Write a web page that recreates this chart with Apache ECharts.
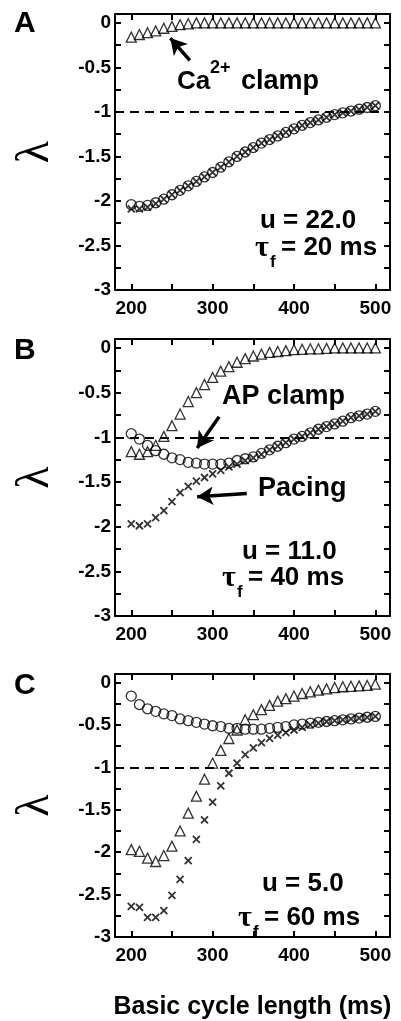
<!DOCTYPE html>
<html><head><meta charset="utf-8">
<script src="https://cdn.jsdelivr.net/npm/echarts@6/dist/echarts.min.js"></script>
<style>html,body{margin:0;padding:0;background:#fff}#c{width:401px;height:1021px}</style>
</head><body><div id="c"></div>
<script>
const bcl = [200,210,220,230,240,250,260,270,280,290,300,310,320,330,340,350,360,370,380,390,400,410,420,430,440,450,460,470,480,490,500];
const xLabels = [200,300,400,500];
const xTicks = [200,250,300,350,400,450,500];
const yLabels = [0,-0.5,-1,-1.5,-2,-2.5,-3];
const yTicks = [0,-0.25,-0.5,-0.75,-1,-1.25,-1.5,-1.75,-2,-2.25,-2.5,-2.75,-3];

// Panel A (u = 22.0, tau_f = 20 ms)
const A_ca = [-0.16,-0.13,-0.11,-0.09,-0.06,-0.04,-0.02,-0.01,0,0,0,0,0,0,0,0,0,0,0,0,0,0,0,0,0,0,0,0,0,0,0];
const A_ap = [-2.04,-2.06,-2.05,-2.02,-1.98,-1.93,-1.88,-1.83,-1.78,-1.73,-1.68,-1.62,-1.56,-1.50,-1.45,-1.40,-1.35,-1.31,-1.27,-1.23,-1.19,-1.15,-1.12,-1.09,-1.06,-1.03,-1.01,-0.99,-0.97,-0.95,-0.93];
const A_pace = [-2.09,-2.09,-2.07,-2.03,-1.98,-1.93,-1.88,-1.83,-1.78,-1.73,-1.68,-1.62,-1.56,-1.50,-1.45,-1.40,-1.35,-1.31,-1.27,-1.23,-1.19,-1.15,-1.12,-1.09,-1.06,-1.03,-1.01,-0.99,-0.97,-0.95,-0.93];
// Panel B (u = 11.0, tau_f = 40 ms)
const B_ca = [-1.16,-1.19,-1.16,-1.09,-0.99,-0.87,-0.74,-0.60,-0.50,-0.41,-0.33,-0.26,-0.21,-0.16,-0.12,-0.09,-0.07,-0.05,-0.04,-0.03,-0.02,-0.015,-0.01,-0.01,-0.005,0,0,0,0,0,0];
const B_ap = [-0.96,-1.02,-1.09,-1.15,-1.19,-1.23,-1.25,-1.28,-1.29,-1.30,-1.30,-1.30,-1.29,-1.26,-1.24,-1.22,-1.18,-1.14,-1.10,-1.06,-1.02,-0.99,-0.95,-0.91,-0.88,-0.85,-0.82,-0.78,-0.76,-0.74,-0.71];
const B_pace = [-1.97,-1.99,-1.97,-1.90,-1.82,-1.72,-1.62,-1.55,-1.49,-1.45,-1.41,-1.37,-1.33,-1.30,-1.26,-1.23,-1.19,-1.14,-1.10,-1.06,-1.02,-0.99,-0.95,-0.91,-0.88,-0.85,-0.82,-0.78,-0.76,-0.74,-0.71];
// Panel C (u = 5.0, tau_f = 60 ms)
const C_ca = [-1.97,-1.99,-2.07,-2.11,-2.04,-1.93,-1.75,-1.54,-1.34,-1.14,-0.95,-0.80,-0.66,-0.56,-0.44,-0.38,-0.32,-0.27,-0.22,-0.19,-0.16,-0.13,-0.11,-0.09,-0.075,-0.06,-0.05,-0.045,-0.04,-0.035,-0.02];
const C_ap = [-0.16,-0.26,-0.31,-0.34,-0.37,-0.39,-0.43,-0.45,-0.47,-0.49,-0.51,-0.52,-0.54,-0.54,-0.55,-0.55,-0.55,-0.54,-0.53,-0.52,-0.50,-0.49,-0.48,-0.47,-0.46,-0.45,-0.44,-0.43,-0.42,-0.41,-0.40];
const C_pace = [-2.64,-2.65,-2.77,-2.77,-2.69,-2.51,-2.32,-2.10,-1.85,-1.62,-1.41,-1.22,-1.07,-0.95,-0.85,-0.77,-0.71,-0.66,-0.62,-0.59,-0.56,-0.53,-0.50,-0.48,-0.46,-0.45,-0.44,-0.43,-0.42,-0.41,-0.40];

// annotation arrows in data coordinates [tail, head]
const arrowA = [[272,-0.42],[248,-0.17]];
const arrowB1 = [[308,-0.77],[281,-1.12]];
const arrowB2 = [[342,-1.63],[281,-1.665]];

const FONT = 'Liberation Sans, Arial, sans-serif';
const grids = [
  {left:115, top:14, width:275, height:276},
  {left:115, top:339, width:275, height:277},
  {left:115, top:674, width:275, height:276}
];
const xAxes = [], yAxes = [];
grids.forEach((g,i)=>{
  const common = {type:'value', gridIndex:i, min:180, max:518,
    axisLine:{show:true,onZero:false,lineStyle:{color:'#000',width:2}},
    axisTick:{show:true,inside:true,length:6,customValues:xTicks,lineStyle:{color:'#000',width:2}},
    splitLine:{show:false}};
  xAxes.push(Object.assign({}, common, {position:'bottom',
    axisLabel:{show:true,customValues:xLabels,color:'#000',fontFamily:FONT,fontWeight:'bold',fontSize:19,margin:9},
    name: i===2 ? 'Basic cycle length (ms)' : '', nameLocation:'middle', nameGap:58,
    nameTextStyle:{color:'#000',fontFamily:FONT,fontWeight:'bold',fontSize:25}}));
  xAxes.push(Object.assign({}, common, {position:'top', axisLabel:{show:false}}));
  const ycommon = {type:'value', gridIndex:i, min:-3, max:0.1,
    axisLine:{show:true,onZero:false,lineStyle:{color:'#000',width:2}},
    axisTick:{show:true,inside:true,length:6,customValues:yTicks,lineStyle:{color:'#000',width:2}},
    splitLine:{show:false}};
  yAxes.push(Object.assign({}, ycommon, {position:'left',
    axisLabel:{show:true,customValues:yLabels,color:'#000',fontFamily:FONT,fontWeight:'bold',fontSize:19,margin:4},
    name:'λ', nameLocation:'middle', nameGap:56, nameRotate:90,
    nameTextStyle:{color:'#000',fontFamily:'Liberation Serif, serif',fontSize:46}}));
  yAxes.push(Object.assign({}, ycommon, {position:'right', axisLabel:{show:false}}));
});

function zip(v){ return bcl.map((x,k)=>[x,v[k]]); }
const triStyle = {symbol:'triangle', symbolSize:10, itemStyle:{color:'transparent',borderColor:'#000',borderWidth:1.3}};
const cirStyle = {symbol:'circle', symbolSize:10, itemStyle:{color:'transparent',borderColor:'#000',borderWidth:1.3}};
const xStyle = {symbol:'path://M0,0L10,10M0,10L10,0', symbolSize:7, itemStyle:{color:'transparent',borderColor:'#000',borderWidth:1.8}};
const dash = {silent:true, symbol:'none', label:{show:false}, lineStyle:{type:[9,6],color:'#000',width:1.8}, data:[{yAxis:-1}]};
function arrowML(arrs){
  return {silent:true, symbol:['none','arrow'], symbolSize:[14,16], label:{show:false},
    lineStyle:{type:'solid',color:'#000',width:3.5},
    data: arrs.map(a=>[{coord:a[0]},{coord:a[1]}])};
}
const panels = [[A_ca,A_ap,A_pace,[arrowA]],[B_ca,B_ap,B_pace,[arrowB1,arrowB2]],[C_ca,C_ap,C_pace,[]]];
const series = [];
panels.forEach((p,i)=>{
  const xi = i*2, yi = i*2;
  series.push(Object.assign({type:'scatter', name:'Ca clamp', xAxisIndex:xi, yAxisIndex:yi, data:zip(p[0]), markLine:dash}, triStyle));
  series.push(Object.assign({type:'scatter', name:'AP clamp', xAxisIndex:xi, yAxisIndex:yi, data:zip(p[1]),
    markLine: p[3].length ? arrowML(p[3]) : undefined}, cirStyle));
  series.push(Object.assign({type:'scatter', name:'Pacing', xAxisIndex:xi, yAxisIndex:yi, data:zip(p[2])}, xStyle));
});

function txt(x,y,t,size,opts){
  return {type:'text', x:x, y:y, silent:true, style:Object.assign({text:t, fill:'#000', font:'bold '+size+'px '+FONT, textAlign:'left', textVerticalAlign:'middle'}, opts||{})};
}
function tau(x,y,rest){
  return [
    {type:'text', x:x, y:y, silent:true, style:{text:'τ', fill:'#000', font:'bold 30px Liberation Serif, serif', textAlign:'left', textVerticalAlign:'middle'}},
    {type:'text', x:x+15, y:y+14, silent:true, style:{text:'f', fill:'#000', font:'bold 17px '+FONT, textAlign:'left', textVerticalAlign:'middle'}},
    {type:'text', x:x+26, y:y, silent:true, style:{text:rest, fill:'#000', font:'bold 26px '+FONT, textAlign:'left', textVerticalAlign:'middle'}}
  ];
}
const graphic = [
  txt(14,24,'A',30), txt(14,351,'B',30), txt(14,686,'C',30),
  txt(177,82,'Ca',26), txt(210,68,'2+',18), txt(241,82,'clamp',27),
  txt(260,221,'u = 22.0',26)
].concat(tau(255,248,'= 20 ms'), [
  txt(222,397,'AP clamp',27),
  txt(258,489,'Pacing',27),
  txt(242,552,'u = 11.0',26)
], tau(222,578,'= 40 ms'), [
  txt(262,884,'u = 5.0',26)
], tau(238,918,'= 60 ms'));

const chart = echarts.init(document.getElementById('c'), null, {renderer:'canvas'});
chart.setOption({animation:false, backgroundColor:'#fff', grid:grids, xAxis:xAxes, yAxis:yAxes, series:series, graphic:graphic});
</script></body></html>
